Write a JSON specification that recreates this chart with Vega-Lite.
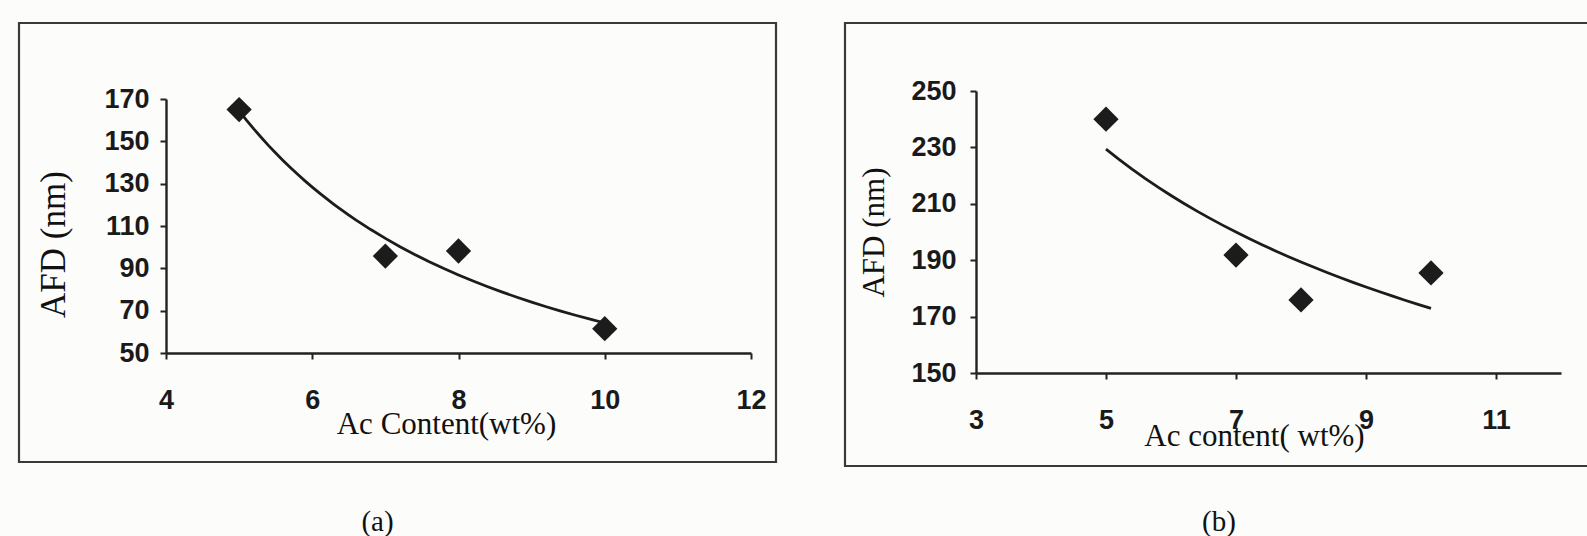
{
  "$schema": "https://vega.github.io/schema/vega-lite/v6.json",
  "background": "#fcfcfb",
  "padding": {"left": 17, "top": 21, "right": 0, "bottom": 0},
  "spacing": 65,
  "datasets": {
    "a": [
      {"ac": 5, "afd": 165},
      {"ac": 7, "afd": 95.8},
      {"ac": 8, "afd": 98.2},
      {"ac": 10, "afd": 61.5}
    ],
    "b": [
      {"ac": 5, "afd": 240},
      {"ac": 7, "afd": 191.8},
      {"ac": 8, "afd": 175.9},
      {"ac": 10, "afd": 185.5}
    ]
  },
  "config": {
    "view": {"stroke": "#3a3a3a", "strokeWidth": 2.2},
    "axis": {
      "grid": false,
      "domainColor": "#222222",
      "domainWidth": 2.4,
      "tickColor": "#222222",
      "tickWidth": 2,
      "tickSize": 6,
      "labelFont": "Liberation Sans, Arial, sans-serif",
      "labelFontSize": 27,
      "labelFontWeight": "bold",
      "labelColor": "#1a1a1a",
      "labelFlush": false,
      "labelOverlap": false,
      "titleFont": "Liberation Serif",
      "titleFontWeight": "normal",
      "titleColor": "#111111",
      "titleBaseline": "middle",
      "titleAlign": "center"
    },
    "title": {"font": "Liberation Serif", "fontSize": 29, "fontWeight": "normal", "color": "#111111"}
  },
  "hconcat": [
    {
      "width": 757,
      "height": 439,
      "title": {"text": "(a)", "orient": "bottom", "offset": 46, "dx": -20},
      "data": {"name": "a"},
      "encoding": {
        "x": {
          "field": "ac", "type": "quantitative",
          "scale": {"domain": [4, 12], "range": [147, 732], "nice": false, "zero": false},
          "axis": {"values": [4, 6, 8, 10, 12], "offset": -109, "labelPadding": 28, "title": "Ac Content(wt%)", "titleFontSize": 31, "titleX": 427, "titleY": 71}
        },
        "y": {
          "field": "afd", "type": "quantitative",
          "scale": {"domain": [50, 170], "range": [330, 76], "nice": false, "zero": false},
          "axis": {"values": [50, 70, 90, 110, 130, 150, 170], "offset": -147, "labelPadding": 11, "title": "AFD (nm)", "titleFontSize": 35, "titleX": -113, "titleY": 221}
        }
      },
      "layer": [
        {
          "transform": [{"regression": "afd", "on": "ac", "method": "pow"}],
          "mark": {"type": "line", "color": "#1c1c1c", "strokeWidth": 2.8}
        },
        {
          "mark": {"type": "point", "shape": "diamond", "filled": true, "size": 640, "color": "#1c1c1c", "opacity": 1}
        }
      ]
    },
    {
      "width": 748,
      "height": 443,
      "title": {"text": "(b)", "orient": "bottom", "offset": 42, "dx": 0},
      "data": {"name": "b"},
      "encoding": {
        "x": {
          "field": "ac", "type": "quantitative",
          "scale": {"domain": [3, 12], "range": [131, 716], "nice": false, "zero": false},
          "axis": {"values": [3, 5, 7, 9, 11], "offset": -93, "labelPadding": 28, "title": "Ac content( wt%)", "titleFontSize": 31, "titleX": 409, "titleY": 63}
        },
        "y": {
          "field": "afd", "type": "quantitative",
          "scale": {"domain": [150, 250], "range": [350, 68], "nice": false, "zero": false},
          "axis": {"values": [150, 170, 190, 210, 230, 250], "offset": -131, "labelPadding": 14, "title": "AFD (nm)", "titleFontSize": 31, "titleX": -102, "titleY": 209}
        }
      },
      "layer": [
        {
          "transform": [{"regression": "afd", "on": "ac", "method": "pow"}],
          "mark": {"type": "line", "color": "#1c1c1c", "strokeWidth": 2.8}
        },
        {
          "mark": {"type": "point", "shape": "diamond", "filled": true, "size": 640, "color": "#1c1c1c", "opacity": 1}
        }
      ]
    }
  ]
}
